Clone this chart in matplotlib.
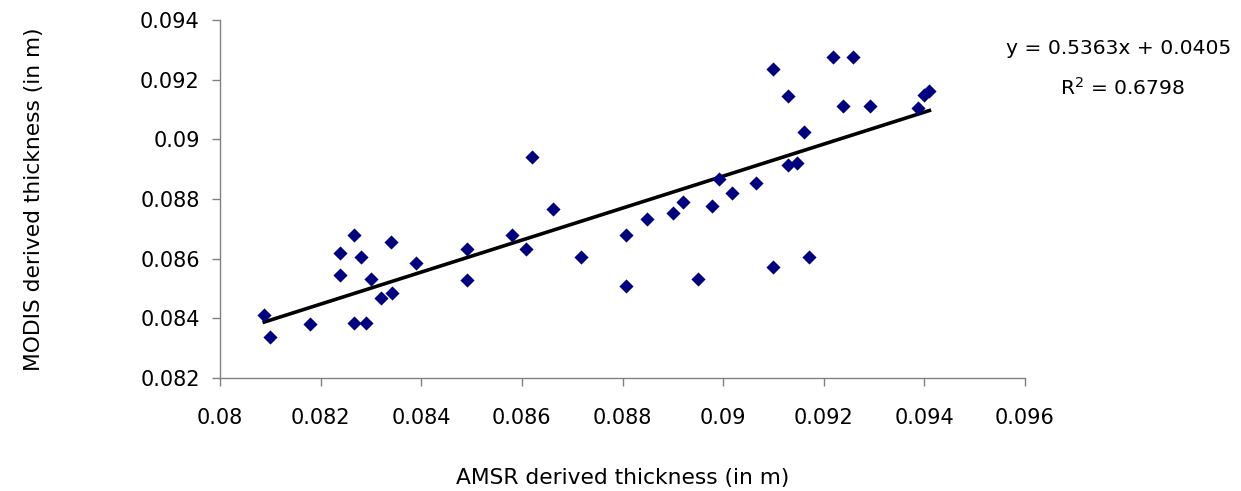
import matplotlib
matplotlib.use('Agg')
import matplotlib.pyplot as plt
from matplotlib.ticker import FuncFormatter, MultipleLocator

plt.rcParams['font.family'] = ['DejaVu Sans']

# AMSR (x) vs MODIS (y) derived thickness, in m
amsr = [0.08088, 0.08099, 0.08178, 0.08239, 0.08239, 0.08267, 0.08266, 0.08280,
        0.08290, 0.08300, 0.08320, 0.08341, 0.08340, 0.08389, 0.08490, 0.08490,
        0.08581, 0.08608, 0.08621, 0.08661, 0.08718, 0.08807, 0.08807, 0.08848,
        0.08901, 0.08921, 0.08950, 0.08978, 0.08991, 0.09018, 0.09066, 0.09100,
        0.09100, 0.09129, 0.09129, 0.09147, 0.09161, 0.09170, 0.09218, 0.09238,
        0.09259, 0.09291, 0.09388, 0.09400, 0.09410]
modis = [0.08412, 0.08337, 0.08382, 0.08618, 0.08546, 0.08680, 0.08384, 0.08605,
         0.08384, 0.08531, 0.08468, 0.08484, 0.08657, 0.08585, 0.08633, 0.08529,
         0.08680, 0.08632, 0.08940, 0.08766, 0.08605, 0.08680, 0.08510, 0.08732,
         0.08752, 0.08791, 0.08531, 0.08778, 0.08866, 0.08819, 0.08853, 0.09235,
         0.08572, 0.09146, 0.08914, 0.08922, 0.09026, 0.08605, 0.09275, 0.09113,
         0.09275, 0.09113, 0.09105, 0.09149, 0.09162]

# linear trendline as reported on the chart
slope = 0.5363
intercept = 0.0405
r2 = 0.6798

fig = plt.figure(figsize=(12.41, 4.91), dpi=100)
ax = fig.add_axes([220 / 1241, 1 - 378 / 491, 805 / 1241, 358 / 491])

ax.scatter(amsr, modis, marker='D', s=52, color='#000080', zorder=3, linewidths=0)

x_fit = [min(amsr), max(amsr)]
y_fit = [slope * v + intercept for v in x_fit]
ax.plot(x_fit, y_fit, color='black', linewidth=2.6, zorder=2)

ax.set_xlim(0.08, 0.096)
ax.set_ylim(0.082, 0.094)
ax.xaxis.set_major_locator(MultipleLocator(0.002))
ax.yaxis.set_major_locator(MultipleLocator(0.002))
fmt = FuncFormatter(lambda v, p: f'{v:g}')
ax.xaxis.set_major_formatter(fmt)
ax.yaxis.set_major_formatter(fmt)

for side in ['top', 'right']:
    ax.spines[side].set_visible(False)
for side in ['left', 'bottom']:
    ax.spines[side].set_color('#808080')
    ax.spines[side].set_linewidth(1.0)
ax.tick_params(axis='both', direction='out', length=5.5, width=1.0, color='#808080',
               labelsize=15, labelcolor='black')
ax.tick_params(axis='x', pad=16)
ax.tick_params(axis='y', pad=9)

ax.set_xlabel('AMSR derived thickness (in m)', fontsize=15.7, labelpad=29)
ax.set_ylabel('MODIS derived thickness (in m)', fontsize=15.7, labelpad=69)

fig.text(1119 / 1241, 1 - 48 / 491, f'y = {slope}x + {intercept}', fontsize=14.6,
         ha='center', va='center')
fig.text(1123 / 1241, 1 - 88 / 491, f'R$^2$ = {r2}', fontsize=14.6,
         ha='center', va='center')

fig.savefig('out.png', dpi=100)
